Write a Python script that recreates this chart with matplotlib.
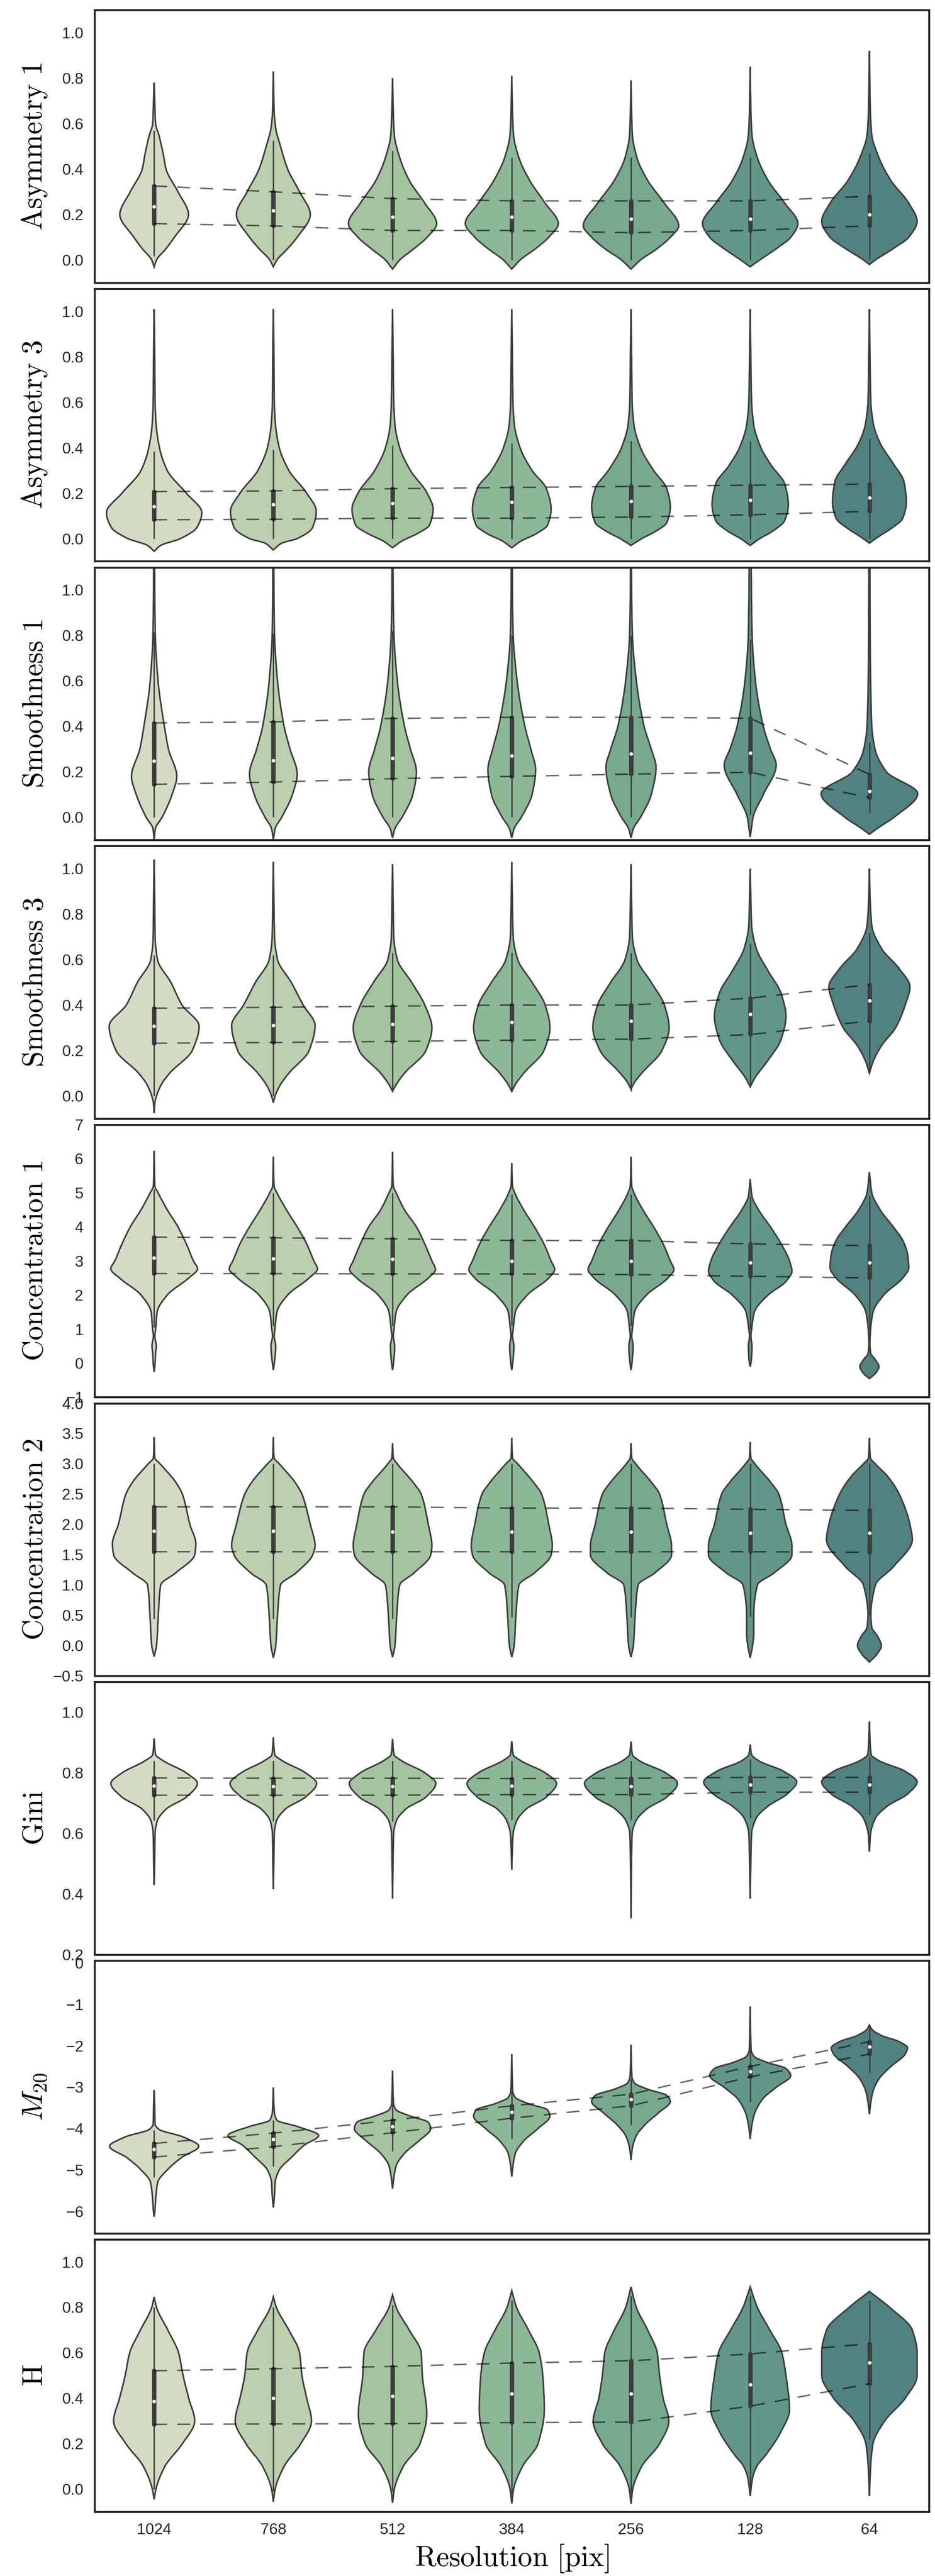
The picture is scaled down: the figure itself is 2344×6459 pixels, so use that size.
import numpy as np
import matplotlib
matplotlib.use('Agg')
import matplotlib.pyplot as plt
from matplotlib.path import Path
from matplotlib.patches import PathPatch

plt.rcParams['font.family'] = ['Liberation Sans', 'DejaVu Sans']
plt.rcParams['mathtext.fontset'] = 'cm'

# resolutions (x categories)
resolutions = ['1024', '768', '512', '384', '256', '128', '64']
colors = ['#d4dbc3', '#bccfae', '#a4c4a0', '#8db897', '#77a98f', '#629688', '#528181']

# ---------------- Asymmetry 1 ----------------
asym1_q1 = [0.16, 0.15, 0.13, 0.13, 0.12, 0.13, 0.15]
asym1_med = [0.235, 0.218, 0.19, 0.19, 0.18, 0.18, 0.20]
asym1_q3 = [0.326, 0.30, 0.27, 0.26, 0.26, 0.26, 0.28]
asym1_wlo = [0.017, 0.0, 0.0, 0.0, 0.0, 0.0, 0.0]
asym1_whi = [0.57, 0.526, 0.48, 0.45, 0.45, 0.45, 0.47]
asym1_shape = [
    [(-0.03, 0), (0.0, 0.02), (0.05, 0.10), (0.10, 0.17), (0.2, 0.288), (0.3, 0.20), (0.4, 0.10), (0.47, 0.075), (0.55, 0.04), (0.6, 0.012), (0.7, 0.005), (0.78, 0)],
    [(-0.03, 0), (0.0, 0.03), (0.05, 0.12), (0.10, 0.20), (0.2, 0.31), (0.3, 0.22), (0.4, 0.12), (0.5, 0.06), (0.58, 0.02), (0.65, 0.007), (0.83, 0)],
    [(-0.04, 0), (0.0, 0.06), (0.05, 0.18), (0.10, 0.29), (0.16, 0.37), (0.25, 0.27), (0.35, 0.14), (0.45, 0.06), (0.55, 0.015), (0.65, 0.006), (0.8, 0)],
    [(-0.04, 0), (0.0, 0.07), (0.05, 0.2), (0.10, 0.31), (0.16, 0.39), (0.25, 0.28), (0.35, 0.15), (0.45, 0.06), (0.55, 0.015), (0.65, 0.006), (0.81, 0)],
    [(-0.04, 0), (0.0, 0.08), (0.05, 0.22), (0.10, 0.33), (0.15, 0.40), (0.25, 0.28), (0.35, 0.14), (0.45, 0.05), (0.55, 0.012), (0.65, 0.005), (0.79, 0)],
    [(-0.03, 0), (0.0, 0.08), (0.05, 0.22), (0.10, 0.34), (0.16, 0.40), (0.25, 0.29), (0.35, 0.15), (0.45, 0.06), (0.55, 0.015), (0.65, 0.006), (0.85, 0)],
    [(-0.02, 0), (0.0, 0.05), (0.05, 0.2), (0.10, 0.33), (0.17, 0.40), (0.25, 0.33), (0.35, 0.18), (0.45, 0.08), (0.55, 0.02), (0.65, 0.008), (0.92, 0)],
]

# ---------------- Asymmetry 3 ----------------
asym3_q1 = [0.083, 0.085, 0.09, 0.09, 0.095, 0.105, 0.12]
asym3_med = [0.142, 0.15, 0.155, 0.16, 0.165, 0.17, 0.18]
asym3_q3 = [0.207, 0.21, 0.22, 0.225, 0.23, 0.235, 0.24]
asym3_wlo = [0.0, 0.0, 0.0, 0.0, 0.0, 0.0, 0.0]
asym3_whi = [0.383, 0.39, 0.41, 0.42, 0.43, 0.43, 0.44]
asym3_shape = [
    [(-0.056, 0), (-0.03, 0.055), (0.0, 0.22), (0.05, 0.36), (0.114, 0.40), (0.2, 0.27), (0.3, 0.11), (0.4, 0.045), (0.5, 0.017), (0.6, 0.008), (0.8, 0.005), (1.01, 0)],
    [(-0.05, 0), (-0.02, 0.07), (0.0, 0.2), (0.05, 0.33), (0.12, 0.36), (0.2, 0.28), (0.3, 0.13), (0.4, 0.05), (0.5, 0.018), (0.6, 0.008), (0.8, 0.005), (1.01, 0)],
    [(-0.04, 0), (-0.01, 0.08), (0.02, 0.2), (0.06, 0.31), (0.13, 0.34), (0.2, 0.29), (0.3, 0.15), (0.4, 0.06), (0.5, 0.02), (0.6, 0.01), (0.8, 0.005), (1.01, 0)],
    [(-0.04, 0), (-0.01, 0.08), (0.02, 0.2), (0.06, 0.3), (0.13, 0.33), (0.22, 0.29), (0.3, 0.17), (0.4, 0.07), (0.5, 0.022), (0.6, 0.01), (0.8, 0.005), (1.01, 0)],
    [(-0.03, 0), (0.0, 0.09), (0.03, 0.2), (0.07, 0.3), (0.14, 0.33), (0.22, 0.3), (0.3, 0.19), (0.4, 0.08), (0.5, 0.025), (0.6, 0.01), (0.8, 0.005), (1.01, 0)],
    [(-0.03, 0), (0.0, 0.08), (0.03, 0.18), (0.08, 0.29), (0.15, 0.32), (0.24, 0.29), (0.32, 0.18), (0.4, 0.09), (0.5, 0.03), (0.6, 0.012), (0.8, 0.005), (1.01, 0)],
    [(-0.02, 0), (0.01, 0.08), (0.04, 0.17), (0.09, 0.28), (0.16, 0.31), (0.25, 0.29), (0.33, 0.2), (0.42, 0.09), (0.5, 0.035), (0.6, 0.012), (0.8, 0.005), (1.01, 0)],
]

# ---------------- Smoothness 1 ----------------
smooth1_q1 = [0.145, 0.155, 0.17, 0.18, 0.19, 0.198, 0.086]
smooth1_med = [0.247, 0.25, 0.26, 0.27, 0.28, 0.283, 0.115]
smooth1_q3 = [0.415, 0.42, 0.435, 0.44, 0.44, 0.436, 0.189]
smooth1_wlo = [0.0, 0.0, 0.0, 0.0, 0.0, 0.01, 0.019]
smooth1_whi = [0.814, 0.81, 0.82, 0.8, 0.8, 0.783, 0.33]
smooth1_shape = [
    [(-0.1, 0), (-0.05, 0.01), (0.0, 0.067), (0.1, 0.15), (0.18, 0.19), (0.3, 0.12), (0.4, 0.086), (0.6, 0.033), (0.8, 0.01), (1.0, 0.005), (1.15, 0.004)],
    [(-0.1, 0), (-0.05, 0.015), (0.0, 0.07), (0.1, 0.16), (0.19, 0.20), (0.3, 0.14), (0.4, 0.09), (0.6, 0.035), (0.8, 0.01), (1.0, 0.005), (1.15, 0.004)],
    [(-0.09, 0), (-0.05, 0.02), (0.0, 0.08), (0.1, 0.17), (0.2, 0.20), (0.3, 0.15), (0.4, 0.1), (0.6, 0.04), (0.8, 0.012), (1.0, 0.005), (1.15, 0.004)],
    [(-0.09, 0), (-0.05, 0.02), (0.0, 0.08), (0.1, 0.17), (0.21, 0.20), (0.3, 0.16), (0.4, 0.11), (0.6, 0.045), (0.8, 0.012), (1.0, 0.005), (1.15, 0.004)],
    [(-0.09, 0), (-0.05, 0.02), (0.0, 0.08), (0.1, 0.17), (0.22, 0.21), (0.3, 0.17), (0.4, 0.11), (0.6, 0.045), (0.8, 0.012), (1.0, 0.005), (1.15, 0.004)],
    [(-0.087, 0), (-0.05, 0.01), (0.0, 0.024), (0.1, 0.11), (0.23, 0.218), (0.3, 0.17), (0.4, 0.11), (0.6, 0.044), (0.8, 0.016), (1.0, 0.01), (1.15, 0.008)],
    [(-0.075, 0), (-0.05, 0.064), (0.0, 0.206), (0.104, 0.405), (0.2, 0.143), (0.3, 0.047), (0.4, 0.02), (0.6, 0.01), (0.8, 0.006), (1.15, 0.004)],
]

# ---------------- Smoothness 3 ----------------
smooth3_q1 = [0.232, 0.235, 0.24, 0.245, 0.25, 0.27, 0.33]
smooth3_med = [0.307, 0.31, 0.315, 0.325, 0.33, 0.36, 0.42]
smooth3_q3 = [0.386, 0.39, 0.395, 0.40, 0.40, 0.43, 0.49]
smooth3_wlo = [0.0, 0.0, 0.02, 0.02, 0.02, 0.05, 0.1]
smooth3_whi = [0.62, 0.62, 0.63, 0.63, 0.63, 0.67, 0.72]
smooth3_shape = [
    [(-0.075, 0), (-0.03, 0.006), (0.0, 0.02), (0.05, 0.06), (0.1, 0.13), (0.2, 0.32), (0.307, 0.377), (0.4, 0.234), (0.5, 0.14), (0.6, 0.028), (0.7, 0.008), (0.85, 0.005), (1.04, 0)],
    [(-0.03, 0), (0.0, 0.015), (0.05, 0.06), (0.1, 0.13), (0.2, 0.30), (0.31, 0.35), (0.4, 0.25), (0.5, 0.15), (0.6, 0.035), (0.7, 0.01), (0.85, 0.005), (1.03, 0)],
    [(0.02, 0), (0.05, 0.03), (0.1, 0.1), (0.2, 0.28), (0.3, 0.33), (0.4, 0.27), (0.5, 0.16), (0.6, 0.04), (0.7, 0.01), (0.85, 0.005), (1.02, 0)],
    [(0.02, 0), (0.05, 0.03), (0.1, 0.1), (0.2, 0.27), (0.3, 0.32), (0.4, 0.28), (0.5, 0.17), (0.6, 0.05), (0.7, 0.012), (0.85, 0.005), (1.03, 0)],
    [(0.03, 0), (0.06, 0.03), (0.1, 0.09), (0.2, 0.26), (0.3, 0.32), (0.4, 0.28), (0.5, 0.17), (0.6, 0.05), (0.7, 0.012), (0.85, 0.005), (1.02, 0)],
    [(0.04, 0), (0.08, 0.04), (0.15, 0.14), (0.25, 0.26), (0.35, 0.3), (0.45, 0.26), (0.55, 0.15), (0.65, 0.05), (0.75, 0.012), (0.88, 0.005), (1.0, 0)],
    [(0.1, 0), (0.15, 0.03), (0.22, 0.1), (0.3, 0.22), (0.4, 0.3), (0.48, 0.34), (0.56, 0.25), (0.65, 0.1), (0.75, 0.02), (0.88, 0.005), (1.0, 0)],
]

# ---------------- Concentration 1 ----------------
conc1_q1 = [2.63, 2.63, 2.62, 2.62, 2.6, 2.55, 2.5]
conc1_med = [3.09, 3.07, 3.05, 3.0, 3.0, 2.95, 2.95]
conc1_q3 = [3.7, 3.68, 3.65, 3.6, 3.6, 3.5, 3.45]
conc1_wlo = [1.05, 1.1, 1.1, 1.1, 1.1, 1.0, 1.0]
conc1_whi = [5.1, 5.0, 5.0, 4.95, 4.95, 4.9, 4.9]
conc1_shape = [
    [(-0.25, 0), (0.0, 0.008), (0.3, 0.012), (0.5, 0.018), (0.8, 0.006), (1.0, 0.013), (1.5, 0.025), (2.0, 0.11), (2.5, 0.29), (2.77, 0.364), (3.0, 0.33), (3.5, 0.27), (4.0, 0.2), (4.5, 0.11), (5.0, 0.033), (5.2, 0.006), (6.23, 0)],
    [(-0.2, 0), (0.0, 0.008), (0.5, 0.02), (0.8, 0.007), (1.0, 0.013), (1.5, 0.03), (2.0, 0.12), (2.5, 0.3), (2.77, 0.37), (3.0, 0.34), (3.5, 0.28), (4.0, 0.2), (4.5, 0.11), (5.0, 0.03), (5.2, 0.006), (6.06, 0)],
    [(-0.2, 0), (0.0, 0.008), (0.5, 0.018), (0.8, 0.006), (1.0, 0.012), (1.5, 0.03), (2.0, 0.12), (2.5, 0.3), (2.75, 0.36), (3.0, 0.33), (3.5, 0.27), (4.0, 0.2), (4.5, 0.1), (5.0, 0.03), (5.2, 0.006), (6.2, 0)],
    [(-0.2, 0), (0.0, 0.008), (0.5, 0.018), (0.8, 0.006), (1.0, 0.012), (1.5, 0.03), (2.0, 0.13), (2.5, 0.31), (2.75, 0.36), (3.0, 0.33), (3.5, 0.27), (4.0, 0.19), (4.5, 0.1), (5.0, 0.025), (5.2, 0.006), (5.87, 0)],
    [(-0.2, 0), (0.0, 0.008), (0.5, 0.018), (0.8, 0.006), (1.0, 0.012), (1.5, 0.03), (2.0, 0.13), (2.5, 0.31), (2.75, 0.36), (3.0, 0.33), (3.5, 0.27), (4.0, 0.19), (4.5, 0.1), (5.0, 0.025), (5.2, 0.006), (6.06, 0)],
    [(-0.1, 0), (0.1, 0.01), (0.5, 0.015), (0.8, 0.006), (1.0, 0.012), (1.5, 0.035), (2.0, 0.15), (2.4, 0.3), (2.7, 0.35), (3.0, 0.33), (3.5, 0.26), (4.0, 0.17), (4.5, 0.07), (4.9, 0.015), (5.4, 0)],
    [(-0.45, 0), (-0.3, 0.05), (-0.1, 0.08), (0.1, 0.05), (0.3, 0.01), (0.6, 0.004), (1.0, 0.01), (1.5, 0.03), (2.0, 0.12), (2.5, 0.28), (2.8, 0.33), (3.2, 0.32), (3.6, 0.28), (4.0, 0.2), (4.5, 0.09), (5.0, 0.02), (5.6, 0)],
]

# ---------------- Concentration 2 ----------------
conc2_q1 = [1.55, 1.55, 1.55, 1.55, 1.55, 1.55, 1.54]
conc2_med = [1.89, 1.89, 1.88, 1.88, 1.88, 1.86, 1.86]
conc2_q3 = [2.29, 2.29, 2.29, 2.27, 2.27, 2.25, 2.23]
conc2_wlo = [0.44, 0.44, 0.44, 0.47, 0.47, 0.48, 0.5]
conc2_whi = [3.0, 3.0, 3.0, 3.0, 3.0, 3.0, 3.0]
conc2_shape = [
    [(-0.18, 0), (0.0, 0.02), (0.5, 0.035), (1.0, 0.055), (1.2, 0.18), (1.5, 0.34), (1.68, 0.35), (2.0, 0.30), (2.5, 0.237), (2.7, 0.18), (3.0, 0.05), (3.1, 0.006), (3.44, 0)],
    [(-0.2, 0), (0.0, 0.02), (0.5, 0.035), (1.0, 0.06), (1.2, 0.19), (1.5, 0.33), (1.65, 0.35), (2.0, 0.31), (2.5, 0.24), (2.7, 0.18), (3.0, 0.05), (3.1, 0.006), (3.44, 0)],
    [(-0.19, 0), (0.0, 0.02), (0.5, 0.035), (1.0, 0.06), (1.2, 0.18), (1.5, 0.32), (1.65, 0.33), (2.0, 0.30), (2.5, 0.24), (2.7, 0.17), (3.0, 0.04), (3.1, 0.006), (3.34, 0)],
    [(-0.19, 0), (0.0, 0.02), (0.5, 0.035), (1.0, 0.06), (1.2, 0.19), (1.5, 0.33), (1.65, 0.34), (2.0, 0.31), (2.5, 0.25), (2.7, 0.18), (3.0, 0.05), (3.1, 0.006), (3.43, 0)],
    [(-0.19, 0), (0.0, 0.02), (0.5, 0.035), (1.0, 0.06), (1.2, 0.2), (1.5, 0.34), (1.65, 0.34), (2.0, 0.3), (2.5, 0.24), (2.7, 0.17), (3.0, 0.04), (3.1, 0.006), (3.34, 0)],
    [(-0.2, 0), (0.0, 0.02), (0.2, 0.03), (0.5, 0.03), (1.0, 0.06), (1.2, 0.2), (1.5, 0.35), (1.65, 0.35), (2.0, 0.3), (2.5, 0.24), (2.7, 0.17), (3.0, 0.04), (3.1, 0.006), (3.36, 0)],
    [(-0.27, 0), (-0.15, 0.06), (0.0, 0.1), (0.15, 0.07), (0.3, 0.02), (0.5, 0.012), (1.0, 0.05), (1.3, 0.2), (1.75, 0.36), (2.0, 0.34), (2.5, 0.25), (2.8, 0.15), (3.0, 0.05), (3.1, 0.008), (3.43, 0)],
]

# ---------------- Gini ----------------
gini_q1 = [0.726, 0.726, 0.726, 0.728, 0.728, 0.736, 0.736]
gini_med = [0.757, 0.756, 0.755, 0.757, 0.756, 0.76, 0.761]
gini_q3 = [0.783, 0.782, 0.782, 0.781, 0.782, 0.785, 0.785]
gini_wlo = [0.644, 0.64, 0.64, 0.645, 0.645, 0.65, 0.66]
gini_whi = [0.84, 0.84, 0.84, 0.84, 0.84, 0.845, 0.85]
gini_shape = [
    [(0.43, 0), (0.5, 0.004), (0.6, 0.008), (0.64, 0.025), (0.68, 0.1), (0.72, 0.27), (0.765, 0.363), (0.8, 0.268), (0.84, 0.075), (0.86, 0.012), (0.913, 0)],
    [(0.416, 0), (0.5, 0.004), (0.6, 0.008), (0.64, 0.025), (0.68, 0.1), (0.72, 0.27), (0.765, 0.363), (0.8, 0.27), (0.84, 0.075), (0.86, 0.012), (0.917, 0)],
    [(0.385, 0), (0.5, 0.004), (0.6, 0.009), (0.64, 0.03), (0.68, 0.11), (0.72, 0.28), (0.765, 0.363), (0.8, 0.27), (0.84, 0.075), (0.86, 0.012), (0.912, 0)],
    [(0.48, 0), (0.55, 0.005), (0.6, 0.012), (0.64, 0.04), (0.68, 0.12), (0.72, 0.29), (0.765, 0.375), (0.8, 0.28), (0.84, 0.075), (0.86, 0.012), (0.905, 0)],
    [(0.32, 0), (0.5, 0.004), (0.6, 0.01), (0.64, 0.04), (0.68, 0.13), (0.72, 0.30), (0.765, 0.39), (0.8, 0.29), (0.84, 0.07), (0.86, 0.012), (0.903, 0)],
    [(0.385, 0), (0.5, 0.005), (0.6, 0.012), (0.65, 0.05), (0.69, 0.15), (0.73, 0.31), (0.77, 0.39), (0.805, 0.28), (0.84, 0.07), (0.86, 0.012), (0.893, 0)],
    [(0.54, 0), (0.6, 0.01), (0.65, 0.05), (0.69, 0.15), (0.73, 0.32), (0.77, 0.40), (0.805, 0.3), (0.84, 0.08), (0.86, 0.015), (0.9, 0.006), (0.969, 0)],
]

# ---------------- M20 ----------------
m20_q1 = [-4.69, -4.44, -4.1, -3.75, -3.45, -2.75, -2.2]
m20_med = [-4.5, -4.26, -3.95, -3.6, -3.3, -2.62, -2.02]
m20_q3 = [-4.36, -4.11, -3.8, -3.45, -3.17, -2.5, -1.9]
m20_wlo = [-5.18, -4.92, -4.55, -4.25, -3.9, -3.35, -2.65]
m20_whi = [-4.04, -3.8, -3.4, -3.1, -2.8, -2.1, -1.5]
m20_shape = [
    [(-6.13, 0), (-6.0, 0.006), (-5.7, 0.013), (-5.3, 0.03), (-5.0, 0.11), (-4.7, 0.23), (-4.43, 0.374), (-4.2, 0.24), (-4.02, 0.04), (-3.9, 0.008), (-3.5, 0.005), (-3.07, 0)],
    [(-5.91, 0), (-5.6, 0.01), (-5.3, 0.015), (-5.0, 0.05), (-4.7, 0.15), (-4.4, 0.26), (-4.17, 0.38), (-3.95, 0.2), (-3.8, 0.03), (-3.6, 0.008), (-3.01, 0)],
    [(-5.45, 0), (-5.2, 0.01), (-4.9, 0.03), (-4.6, 0.1), (-4.3, 0.22), (-4.0, 0.32), (-3.85, 0.3), (-3.7, 0.15), (-3.55, 0.03), (-3.4, 0.008), (-2.6, 0)],
    [(-5.16, 0), (-4.9, 0.01), (-4.6, 0.03), (-4.3, 0.1), (-4.0, 0.22), (-3.7, 0.32), (-3.55, 0.3), (-3.4, 0.14), (-3.25, 0.03), (-3.1, 0.008), (-2.2, 0)],
    [(-4.76, 0), (-4.5, 0.01), (-4.2, 0.04), (-3.9, 0.12), (-3.6, 0.24), (-3.35, 0.33), (-3.2, 0.3), (-3.05, 0.14), (-2.9, 0.03), (-2.75, 0.008), (-1.98, 0)],
    [(-4.25, 0), (-4.0, 0.01), (-3.7, 0.03), (-3.3, 0.1), (-3.0, 0.22), (-2.72, 0.34), (-2.55, 0.3), (-2.4, 0.14), (-2.25, 0.03), (-2.1, 0.008), (-1.05, 0)],
    [(-3.65, 0), (-3.4, 0.01), (-3.1, 0.03), (-2.8, 0.08), (-2.5, 0.18), (-2.2, 0.3), (-2.05, 0.32), (-1.9, 0.25), (-1.75, 0.1), (-1.6, 0.02), (-1.5, 0)],
]

# ---------------- H ----------------
h_q1 = [0.285, 0.287, 0.288, 0.293, 0.295, 0.365, 0.464]
h_med = [0.387, 0.40, 0.41, 0.42, 0.42, 0.46, 0.557]
h_q3 = [0.521, 0.53, 0.54, 0.555, 0.565, 0.595, 0.64]
h_wlo = [0.0, -0.01, -0.01, -0.02, -0.02, 0.01, 0.22]
h_whi = [0.80, 0.80, 0.81, 0.83, 0.85, 0.85, 0.83]
h_shape = [
    [(-0.045, 0), (0.0, 0.015), (0.1, 0.09), (0.2, 0.237), (0.3, 0.34), (0.4, 0.29), (0.5, 0.243), (0.6, 0.205), (0.7, 0.115), (0.8, 0.02), (0.846, 0)],
    [(-0.055, 0), (0.0, 0.015), (0.1, 0.09), (0.2, 0.23), (0.3, 0.32), (0.4, 0.28), (0.5, 0.24), (0.6, 0.22), (0.7, 0.13), (0.8, 0.025), (0.846, 0)],
    [(-0.06, 0), (0.0, 0.015), (0.1, 0.09), (0.2, 0.23), (0.33, 0.287), (0.5, 0.25), (0.6, 0.24), (0.7, 0.14), (0.8, 0.03), (0.855, 0)],
    [(-0.063, 0), (0.0, 0.015), (0.1, 0.09), (0.2, 0.22), (0.35, 0.273), (0.5, 0.26), (0.6, 0.23), (0.7, 0.14), (0.8, 0.04), (0.873, 0)],
    [(-0.064, 0), (0.0, 0.015), (0.1, 0.09), (0.2, 0.24), (0.3, 0.317), (0.4, 0.27), (0.5, 0.24), (0.6, 0.22), (0.7, 0.14), (0.8, 0.045), (0.89, 0)],
    [(-0.03, 0), (0.05, 0.02), (0.1, 0.055), (0.15, 0.13), (0.25, 0.255), (0.35, 0.33), (0.5, 0.3), (0.6, 0.266), (0.7, 0.165), (0.8, 0.06), (0.89, 0)],
    [(-0.03, 0), (0.1, 0.01), (0.2, 0.03), (0.3, 0.128), (0.4, 0.3), (0.5, 0.4), (0.6, 0.40), (0.7, 0.36), (0.8, 0.17), (0.87, 0)],
]

# panel table: label, ylim, yticks, data
panels = [
    (r'$\mathrm{Asymmetry\ 1}$', (-0.1, 1.1), np.arange(0, 1.01, 0.2), asym1_q1, asym1_med, asym1_q3, asym1_wlo, asym1_whi, asym1_shape),
    (r'$\mathrm{Asymmetry\ 3}$', (-0.1, 1.1), np.arange(0, 1.01, 0.2), asym3_q1, asym3_med, asym3_q3, asym3_wlo, asym3_whi, asym3_shape),
    (r'$\mathrm{Smoothness\ 1}$', (-0.1, 1.1), np.arange(0, 1.01, 0.2), smooth1_q1, smooth1_med, smooth1_q3, smooth1_wlo, smooth1_whi, smooth1_shape),
    (r'$\mathrm{Smoothness\ 3}$', (-0.1, 1.1), np.arange(0, 1.01, 0.2), smooth3_q1, smooth3_med, smooth3_q3, smooth3_wlo, smooth3_whi, smooth3_shape),
    (r'$\mathrm{Concentration\ 1}$', (-1, 7), np.arange(-1, 7.01, 1), conc1_q1, conc1_med, conc1_q3, conc1_wlo, conc1_whi, conc1_shape),
    (r'$\mathrm{Concentration\ 2}$', (-0.5, 4.0), np.arange(-0.5, 4.01, 0.5), conc2_q1, conc2_med, conc2_q3, conc2_wlo, conc2_whi, conc2_shape),
    (r'$\mathrm{Gini}$', (0.2, 1.1), np.arange(0.2, 1.01, 0.2), gini_q1, gini_med, gini_q3, gini_wlo, gini_whi, gini_shape),
    (r'$M_{20}$', (-6.53, 0.06), np.arange(-6, 0.01, 1), m20_q1, m20_med, m20_q3, m20_wlo, m20_whi, m20_shape),
    (r'$\mathrm{H}$', (-0.1, 1.1), np.arange(0, 1.01, 0.2), h_q1, h_med, h_q3, h_wlo, h_whi, h_shape),
]

EDGE = '#3d3d3d'


def pchip_slopes(y, w):
    h = np.diff(y)
    d = np.diff(w) / h
    m = np.zeros_like(w)
    m[0] = d[0]
    m[-1] = d[-1]
    for k in range(1, len(w) - 1):
        if d[k - 1] * d[k] <= 0:
            m[k] = 0.0
        else:
            w1 = 2 * h[k] + h[k - 1]
            w2 = h[k] + 2 * h[k - 1]
            m[k] = (w1 + w2) / (w1 / d[k - 1] + w2 / d[k])
    return m


def violin_path(c, knots):
    """smooth closed outline through the (y, half width) knots, mirrored round x = c"""
    y = np.array([p[0] for p in knots], float)
    w = np.array([p[1] for p in knots], float)
    m = pchip_slopes(y, w)
    verts = [(c + w[0], y[0])]
    codes = [Path.MOVETO]
    for i in range(len(y) - 1):
        h = y[i + 1] - y[i]
        verts += [(c + w[i] + m[i] * h / 3, y[i] + h / 3),
                  (c + w[i + 1] - m[i + 1] * h / 3, y[i + 1] - h / 3),
                  (c + w[i + 1], y[i + 1])]
        codes += [Path.CURVE4] * 3
    verts.append((c - w[-1], y[-1]))
    codes.append(Path.LINETO)
    for i in range(len(y) - 1, 0, -1):
        h = y[i] - y[i - 1]
        verts += [(c - (w[i] - m[i] * h / 3), y[i] - h / 3),
                  (c - (w[i - 1] + m[i - 1] * h / 3), y[i - 1] + h / 3),
                  (c - w[i - 1], y[i - 1])]
        codes += [Path.CURVE4] * 3
    verts.append(verts[0])
    codes.append(Path.CLOSEPOLY)
    return Path(verts, codes)


fig = plt.figure(figsize=(23.44, 64.59), dpi=100)
axes = fig.subplots(9, 1, sharex=True)
fig.subplots_adjust(left=0.1011, right=0.9936, top=0.9961, bottom=0.0249, hspace=0.022)

xs = np.arange(len(resolutions))
for ax, (label, ylim, yticks, q1, med, q3, wlo, whi, shapes) in zip(axes, panels):
    for i in xs:
        patch = PathPatch(violin_path(i, shapes[i]), facecolor=colors[i],
                          edgecolor=EDGE, lw=2.8, zorder=2)
        ax.add_patch(patch)
        ax.plot([i, i], [wlo[i], whi[i]], color=EDGE, lw=2.4, zorder=3,
                solid_capstyle='butt')
        ax.plot([i, i], [q1[i], q3[i]], color=EDGE, lw=8, zorder=3,
                solid_capstyle='round')
        ax.plot(i, med[i], 'o', color='white', ms=6.5, mec='none', zorder=4)
    # dashed lines joining the quartiles from one resolution to the next
    ax.plot(xs, q3, color='k', alpha=0.6, lw=2.6, ls=(0, (9, 7)), zorder=5)
    ax.plot(xs, q1, color='k', alpha=0.6, lw=2.6, ls=(0, (9, 7)), zorder=5)

    ax.set_xlim(-0.5, 6.5)
    ax.set_ylim(*ylim)
    ax.set_yticks(yticks)
    ax.tick_params(length=0, labelsize=28, pad=20, colors='#262626')
    for sp in ax.spines.values():
        sp.set_linewidth(3.6)
        sp.set_color('#262626')
    ax.set_ylabel(label, fontsize=52, color='black')
    ax.yaxis.set_label_coords(-0.055, 0.5)

axes[-1].set_xticks(xs)
axes[-1].set_xticklabels(resolutions)
axes[-1].set_xlabel(r'$\mathrm{Resolution\ [pix]}$', fontsize=52, labelpad=10)

fig.savefig('out.png', dpi=100)
